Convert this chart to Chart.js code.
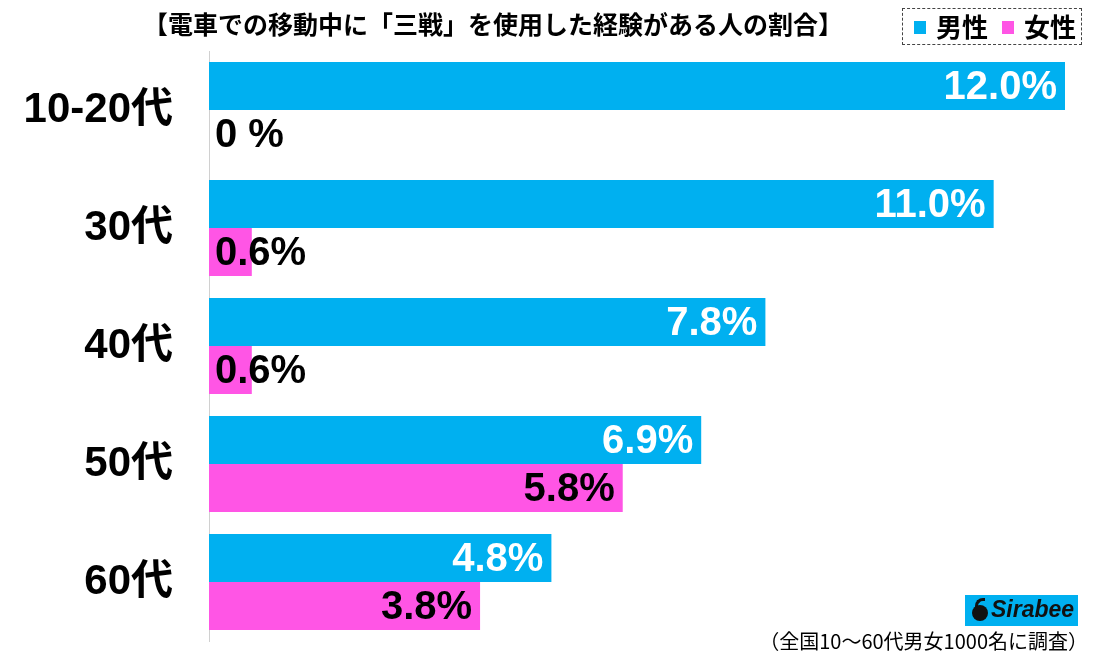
<!DOCTYPE html>
<html><head><meta charset="utf-8">
<script src="https://cdn.jsdelivr.net/npm/chart.js@4"></script>
<style>
html,body{margin:0;padding:0;background:#fff;}
#wrap{position:relative;width:1094px;height:657px;overflow:hidden;}
canvas{position:absolute;left:0;top:0;}
.t{position:absolute;font-family:"Noto Sans CJK JP",sans-serif;color:#000;white-space:nowrap;}
#title{left:140px;top:5px;width:706px;text-align:center;font-size:25px;font-weight:700;letter-spacing:0px;}
#legend{position:absolute;left:902px;top:8px;width:178px;height:35px;border:1px dashed #444;}
.sq{position:absolute;width:12px;height:13px;top:12px;}
#foot{right:6px;top:626px;font-size:20px;}
#logo{position:absolute;left:965px;top:595px;width:113px;height:31px;background:#00B0F0;}
#logo span{position:absolute;left:26px;top:1px;font-family:"Liberation Sans",sans-serif;font-weight:700;font-style:italic;font-size:23px;color:#111;}
#icon{position:absolute;left:7px;top:10px;width:16px;height:16px;border-radius:50%;background:#111;}
#icon2{position:absolute;left:10px;top:3px;width:7px;height:9px;border:3px solid #111;border-right:none;border-bottom:none;border-radius:8px 0 0 0;}
</style></head>
<body><div id="wrap">
<canvas id="c" width="1094" height="657"></canvas>
<div class="t" id="title">【電車での移動中に「三戦」を使用した経験がある人の割合】</div>
<div id="legend">
  <div class="sq" style="left:11px;background:#00B0F0"></div>
  <div class="t" style="left:33px;top:-2px;font-size:26px;font-weight:700">男性</div>
  <div class="sq" style="left:99px;background:#FF55E5"></div>
  <div class="t" style="left:121px;top:-2px;font-size:26px;font-weight:700">女性</div>
</div>
<div id="logo"><div id="icon2"></div><div id="icon"></div><span>Sirabee</span></div>
<div class="t" id="foot">（全国10〜60代男女1000名に調査）</div>
</div>
<script>
const categories = ["10-20代", "30代", "40代", "50代", "60代"];
const maleValues = [12.0, 11.0, 7.8, 6.9, 4.8];
const femaleValues = [0, 0.6, 0.6, 5.8, 3.8];
const seriesNames = ["男性", "女性"];

const fmt = v => v === 0 ? "0 %" : v.toFixed(1) + "%";

const labelPlugin = {
  id: "barLabels",
  afterDatasetsDraw(chart) {
    const ctx = chart.ctx;
    const x0 = chart.scales.x.getPixelForValue(0);
    chart.data.datasets.forEach((ds, i) => {
      const meta = chart.getDatasetMeta(i);
      meta.data.forEach((bar, j) => {
        const v = ds.data[j];
        ctx.save();
        ctx.font = "bold 40px 'Liberation Sans', Arial, sans-serif";
        ctx.textBaseline = "middle";
        ctx.fillStyle = (i === 0 && v >= 2) ? "#ffffff" : "#000000";
        if (v < 2) {
          ctx.textAlign = "left";
          ctx.fillText(fmt(v), x0 + 6, bar.y + 2);
        } else {
          ctx.textAlign = "right";
          ctx.fillText(fmt(v), bar.x - 8, bar.y + 2);
        }
        ctx.restore();
      });
    });
  }
};

new Chart(document.getElementById("c"), {
  type: "bar",
  data: {
    labels: categories,
    datasets: [
      { label: seriesNames[0], data: maleValues, backgroundColor: "#00B0F0" },
      { label: seriesNames[1], data: femaleValues, backgroundColor: "#FF55E5" }
    ]
  },
  options: {
    indexAxis: "y",
    responsive: false,
    animation: false,
    devicePixelRatio: 1,
    categoryPercentage: 0.8136,
    barPercentage: 1.0,
    layout: { padding: { left: 0, right: 29, top: 51, bottom: 16 } },
    plugins: { legend: { display: false }, title: { display: false }, tooltip: { enabled: false } },
    scales: {
      x: { display: false, min: 0, max: 12 },
      y: {
        afterFit(scale) { scale.width = 209; scale.paddingTop = 0; scale.paddingBottom = 0; },
        grid: { display: false },
        border: { display: true, color: "#d0d0d0", width: 1 },
        ticks: {
          color: "#000",
          padding: 28,
          font: { family: "'Liberation Sans', 'Noto Sans CJK JP', sans-serif", size: 42, weight: "bold" }
        }
      }
    }
  },
  plugins: [labelPlugin]
});
</script>
</body></html>
